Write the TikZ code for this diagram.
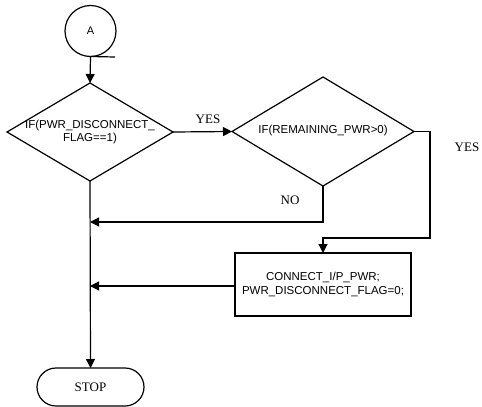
\documentclass[tikz,border=0pt]{standalone}
\usepackage{fontspec}
\setmainfont{Liberation Serif}
\setsansfont{Liberation Sans}
\usetikzlibrary{shapes.geometric,shapes.misc,arrows.meta}
\begin{document}
\begin{tikzpicture}[x=1pt,y=-1pt,
  line width=1.2pt,
  flow/.style={-{Triangle[length=9pt,width=9pt]}},
  decision/.style={draw,diamond,inner sep=0pt,outer sep=0pt},
  proc/.style={draw,rectangle,inner sep=0pt,outer sep=0pt,font=\sffamily\fontsize{11.5}{13.5}\selectfont,align=center},
  term/.style={draw,rounded rectangle,inner sep=0pt,outer sep=0pt,font=\rmfamily\fontsize{13}{15}\selectfont},
  conn/.style={draw,circle,inner sep=0pt,outer sep=0pt,font=\sffamily\fontsize{11}{13}\selectfont},
  ctext/.style={font=\sffamily\fontsize{11.5}{13.5}\selectfont,align=center,inner sep=0pt},
  lbl/.style={font=\rmfamily\fontsize{13}{15}\selectfont,inner sep=0pt}]
\useasboundingbox (0,0) rectangle (482,407);

% start connector
\node[conn,minimum size=51pt] (A) at (90.5,31) {A};
\coordinate (Atail) at (115,57);

% first decision
\node[decision,minimum width=166pt,minimum height=98pt] (d1) at (90,132) {};
\node[ctext] (d1t) at (90,132) {IF(PWR\_DISCONNECT\_\\FLAG==1)};

% second decision
\node[decision,minimum width=182pt,minimum height=109pt] (d2) at (323,131.5) {};
\node[ctext] (d2t) at (323,131) {IF(REMAINING\_PWR>0)};

% action box
\node[proc,minimum width=176pt,minimum height=63pt] (box) at (323,284.5)
  {CONNECT\_I/P\_PWR;\\PWR\_DISCONNECT\_FLAG=0;};

% end terminal
\node[term,minimum width=107pt,minimum height=38pt] (stop) at (90.5,387) {STOP};

% junctions on the main line
\coordinate (j1) at (90,222);
\coordinate (j2) at (90,286);
\coordinate (r1) at (430,131.5);
\coordinate (r2) at (430,238);

% labels
\node[lbl] (yes1) at (208,119) {YES};
\node[lbl] (yes2) at (467,147) {YES};
\node[lbl] (no) at (290,200) {NO};

% connectors
\draw (A.south) -- (Atail);
\draw[flow] (A.south) -- (d1.north);
\draw[flow] (d1.east) -- (d2.west);
\draw[flow] (d2.south) |- (j1);
\draw[flow] (d2.east) -- (r1) -- (r2) -| (box.north);
\draw[flow] (box.west |- j2) -- (j2);
\draw[flow] (d1.south) -- (stop.north);
\end{tikzpicture}
\end{document}
